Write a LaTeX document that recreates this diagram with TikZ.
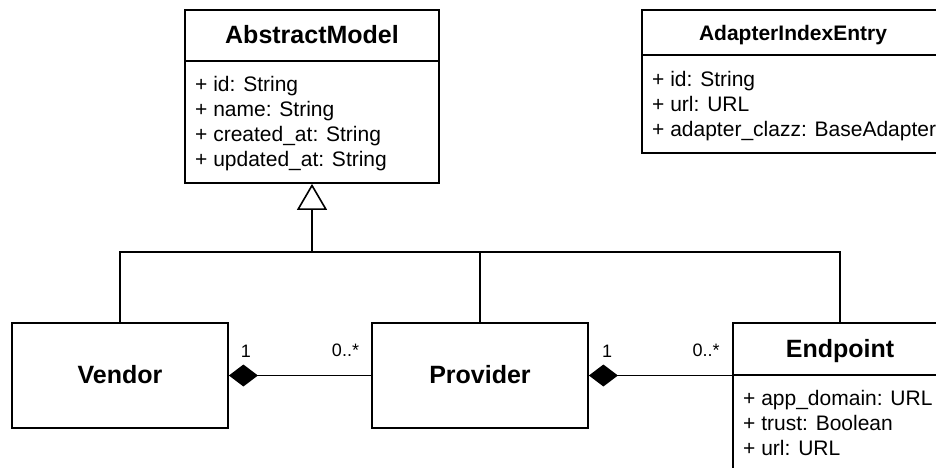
\documentclass[tikz,border=0pt]{standalone}
\usepackage{fontspec}
\setmainfont{Liberation Sans}
\usetikzlibrary{arrows.meta}

\begin{document}
\begin{tikzpicture}[x=1pt, y=-1pt,
  classbox/.style={draw=black, line width=1.8pt, inner sep=0pt, fill=white},
  bigtitle/.style={font=\bfseries\fontsize{25}{30}\selectfont, inner sep=0pt, anchor=base},
  smalltitle/.style={font=\bfseries\fontsize{21}{25}\selectfont, inner sep=0pt, anchor=base},
  attr/.style={font=\fontsize{21}{25}\selectfont, inner sep=0pt, anchor=base west},
  mult/.style={font=\fontsize{18}{22}\selectfont, inner sep=0pt, anchor=base},
  divider/.style={line width=1.8pt},
  link/.style={line width=1.6pt},
  compo/.style={link, -{Diamond[length=29pt, width=22pt, fill=black]}},
  inherit/.style={link, -{Triangle[open, length=26pt, width=30pt, fill=white]}}
]
\useasboundingbox (0,0) rectangle (936,468);
\fill[white] (0,0) rectangle (936,468);
\clip (0,0) rectangle (936,468);

% class boxes
\node[classbox, minimum width=254pt, minimum height=173pt] (am) at (312,96.5) {};
\node[classbox, minimum width=302pt, minimum height=143pt] (aie) at (793,81.5) {};
\node[classbox, minimum width=216pt, minimum height=105pt] (vendor) at (120,375.5) {};
\node[classbox, minimum width=216pt, minimum height=105pt] (provider) at (480,375.5) {};
\node[classbox, minimum width=214pt, minimum height=150pt] (endpoint) at (840,398) {};

% compartment dividers
\draw[divider] (am.west |- 0,61) -- (am.east |- 0,61);
\draw[divider] (aie.west |- 0,55) -- (aie.east |- 0,55);
\draw[divider] (endpoint.west |- 0,375) -- (endpoint.east |- 0,375);

% class names
\node[bigtitle] (amT) at (312,44) {AbstractModel};
\node[smalltitle] (aieT) at (793,41) {AdapterIndexEntry};
\node[bigtitle] (vendorT) at (120,383) {Vendor};
\node[bigtitle] (providerT) at (480,383) {Provider};
\node[bigtitle] (endpointT) at (840,357) {Endpoint};

% attributes
\node[attr] (amA1) at (195,91.7) {+ id: String};
\node[attr] (amA2) at (195,116.7) {+ name: String};
\node[attr] (amA3) at (195,141.7) {+ created\_at: String};
\node[attr] (amA4) at (195,166.7) {+ updated\_at: String};

\node[attr] (aieA1) at (652,86.7) {+ id: String};
\node[attr] (aieA2) at (652,111.7) {+ url: URL};
\node[attr] (aieA3) at (652,136.7) {+ adapter\_clazz: BaseAdapter};

\node[attr] (epA1) at (743,405) {+ app\_domain: URL};
\node[attr] (epA2) at (743,430) {+ trust: Boolean};
\node[attr] (epA3) at (743,455) {+ url: URL};

% generalisation tree
\coordinate (hub) at (312,252);
\draw[inherit] (hub) -- (am.south);
\draw[link] (vendor.north) -- (vendor.north |- hub) -- (endpoint.north |- hub) -- (endpoint.north);
\draw[link] (provider.north) -- (provider.north |- hub);

% compositions
\draw[compo] (provider.west) -- (vendor.east);
\draw[compo] (endpoint.west |- provider.east) -- (provider.east);

% multiplicities
\node[mult] (m1) at (246,357) {1};
\node[mult] (m2) at (345.5,356) {0..*};
\node[mult] (m3) at (607,357) {1};
\node[mult] (m4) at (706,356) {0..*};
\end{tikzpicture}
\end{document}
